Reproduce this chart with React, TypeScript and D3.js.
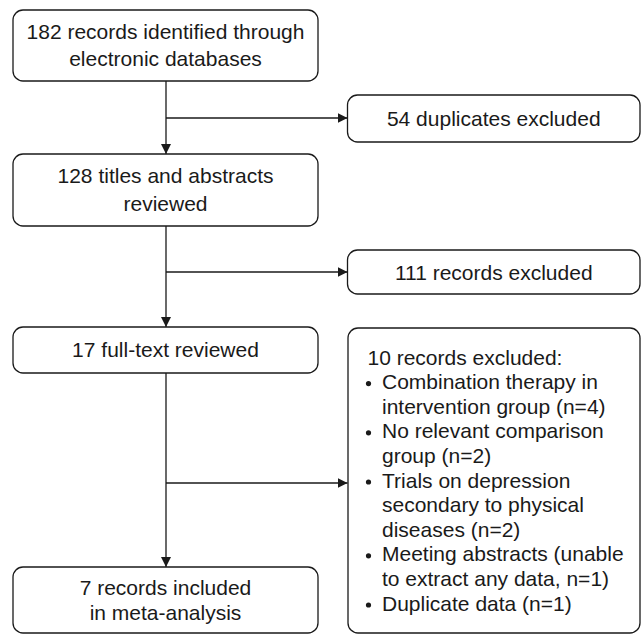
import { useEffect, useRef } from "react";
import * as d3 from "d3";

// flow steps down the left column
const STEPS = [
  ["182 records identified through", "electronic databases"],
  ["128 titles and abstracts", "reviewed"],
  ["17 full-text reviewed"],
  ["7 records included", "in meta-analysis"],
];

// exclusions to the right of each transition
const EXCLUDED = [["54 duplicates excluded"], ["111 records excluded"]];

const FULLTEXT_HEADER = "10 records excluded:";
const FULLTEXT_REASONS = [
  ["Combination therapy in", "intervention group (n=4)"],
  ["No relevant comparison", "group (n=2)"],
  ["Trials on depression", "secondary to physical", "diseases (n=2)"],
  ["Meeting abstracts (unable", "to extract any data, n=1)"],
  ["Duplicate data (n=1)"],
];

const W = 642;
const H = 635;
const FONT = "'Liberation Sans', Arial, Helvetica, sans-serif";
const FS = 21;
const INK = "#1a1a1a";

// layout: left column boxes [top, bottom]
const LEFT_BOXES: [number, number][] = [
  [10, 81],
  [154, 226],
  [327, 373],
  [567, 633],
];
const LEFT_LINE_GAP = [27, 28, 0, 25];
const SIDE_BOXES: [number, number][] = [
  [95, 142],
  [250, 294],
];
const BRANCH_Y = [118, 272, 483];

export default function App() {
  const svgRef = useRef<SVGSVGElement>(null);

  useEffect(() => {
    const svg = d3.select(svgRef.current);
    svg.selectAll("*").remove();

    const x = d3.scaleLinear().domain([0, 1]).range([13, 318]);
    const xr = d3.scaleLinear().domain([0, 1]).range([347.5, 640]);
    const cx = 166;

    svg
      .append("defs")
      .append("marker")
      .attr("id", "arrow")
      .attr("viewBox", "0 0 10 10")
      .attr("refX", 10)
      .attr("refY", 5)
      .attr("markerWidth", 10)
      .attr("markerHeight", 10)
      .attr("markerUnits", "userSpaceOnUse")
      .attr("orient", "auto")
      .append("path")
      .attr("d", "M0,0 L10,5 L0,10 Z")
      .attr("fill", INK);

    const g = svg.append("g");

    const box = (x0: number, x1: number, y0: number, y1: number) =>
      g
        .append("rect")
        .attr("x", x0)
        .attr("y", y0)
        .attr("width", x1 - x0)
        .attr("height", y1 - y0)
        .attr("rx", 10)
        .attr("fill", "#fff")
        .attr("stroke", INK)
        .attr("stroke-width", 1.3);

    const centered = (lines: string[], xc: number, yc: number, gap: number) => {
      const y0 = yc - ((lines.length - 1) * gap) / 2;
      lines.forEach((t, i) => {
        g.append("text")
          .attr("x", xc)
          .attr("y", y0 + i * gap)
          .attr("dy", "0.36em")
          .attr("text-anchor", "middle")
          .attr("font-family", FONT)
          .attr("font-size", FS)
          .attr("fill", INK)
          .text(t);
      });
    };

    // connectors
    const line = (x1: number, y1: number, x2: number, y2: number) =>
      g
        .append("line")
        .attr("x1", x1)
        .attr("y1", y1)
        .attr("x2", x2)
        .attr("y2", y2)
        .attr("stroke", INK)
        .attr("stroke-width", 1.3)
        .attr("marker-end", "url(#arrow)");

    for (let i = 0; i < LEFT_BOXES.length - 1; i++) {
      line(cx, LEFT_BOXES[i][1], cx, LEFT_BOXES[i + 1][0]);
      line(cx, BRANCH_Y[i], xr(0), BRANCH_Y[i]);
    }

    STEPS.forEach((lines, i) => {
      const [y0, y1] = LEFT_BOXES[i];
      box(x(0), x(1), y0, y1);
      centered(lines, (x(0) + x(1)) / 2, (y0 + y1) / 2 - 0.5, LEFT_LINE_GAP[i]);
    });

    EXCLUDED.forEach((lines, i) => {
      const [y0, y1] = SIDE_BOXES[i];
      box(xr(0), xr(1), y0, y1);
      centered(lines, (xr(0) + xr(1)) / 2, (y0 + y1) / 2, 0);
    });

    // full-text exclusion box with bullet list
    box(xr(0) + 0.5, xr(1), 328, 633);
    const rows: { text: string; bullet: boolean; indent: boolean }[] = [
      { text: FULLTEXT_HEADER, bullet: false, indent: false },
    ];
    FULLTEXT_REASONS.forEach((r) =>
      r.forEach((t, j) => rows.push({ text: t, bullet: j === 0, indent: true })),
    );
    const ly = d3
      .scaleLinear()
      .domain([0, rows.length - 1])
      .range([357, 603]);
    rows.forEach((r, i) => {
      g.append("text")
        .attr("x", r.indent ? 382 : 367.5)
        .attr("y", ly(i))
        .attr("dy", "0.36em")
        .attr("font-family", FONT)
        .attr("font-size", FS)
        .attr("fill", INK)
        .text(r.text);
      if (r.bullet) {
        g.append("circle")
          .attr("cx", 368.5)
          .attr("cy", ly(i) + 2)
          .attr("r", 2.6)
          .attr("fill", INK);
      }
    });
  }, []);

  return (
    <svg
      ref={svgRef}
      width={W}
      height={H}
      style={{ position: "absolute", left: 0, top: 0, background: "#fff" }}
    />
  );
}
